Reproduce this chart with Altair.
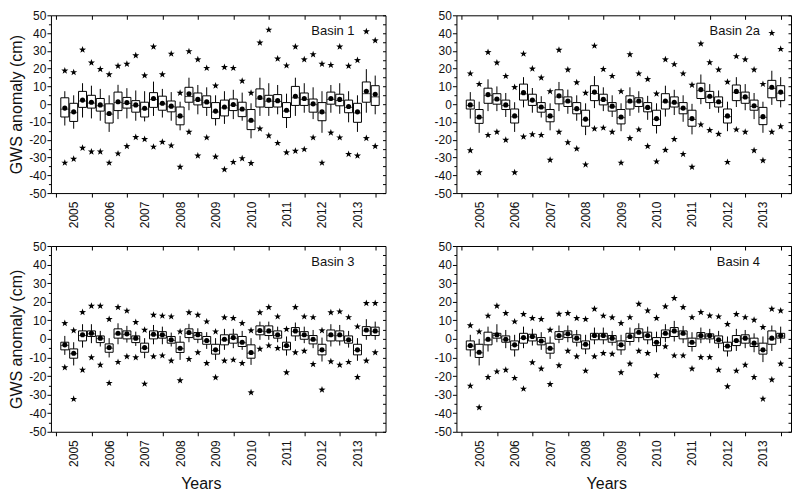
import json
import altair as alt
import pandas as pd

# ---------------- data ----------------
years = ["2005", "2006", "2007", "2008", "2009", "2010", "2011", "2012", "2013"]
basin_names = ["Basin 1", "Basin 2a", "Basin 3", "Basin 4"]
quarter_pos = list(range(1, 37))

# Basin 1
b1_q3 = [3.6, 0.5, 7.2, 5.0, 3.2, 0.2, 6.8, 3.8, 2.0, 1.1, 6.5, 4.5, 1.8, -1.6, 9.5, 6.3, 4.7, 0.9, 2.3, 2.9, 1.1, -3.0, 8.6, 5.0, 5.4, 0.9, 10.0, 6.3, 2.9, 0.9, 6.8, 5.6, 2.3, 0.5, 12.5, 10.4]
b1_q1 = [-7.2, -9.7, -1.8, -2.2, -3.9, -10.6, -3.6, -2.2, -4.5, -7.2, -1.8, -3.4, -4.3, -11.6, 1.1, -0.4, -1.8, -8.1, -6.6, -3.6, -7.0, -14.3, -1.6, -1.8, -1.6, -7.5, -0.7, -0.7, -4.5, -9.3, 0.0, -0.9, -4.8, -10.2, 1.1, -0.7]
b1_mean = [-2.2, -4.3, 2.3, 1.1, -0.4, -5.2, 1.4, 0.9, -0.4, -2.3, 3.2, 0.5, -1.1, -6.6, 5.9, 2.7, 1.3, -3.9, -1.6, -0.2, -2.7, -9.0, 3.8, 2.3, 2.0, -3.4, 4.5, 3.2, 0.2, -4.3, 3.2, 2.7, -1.3, -4.3, 7.3, 5.6]
b1_med = [-2.8, -4.8, 1.8, 0.6, -0.9, -5.6, 0.9, 0.4, -0.8, -2.8, 2.6, 0.1, -1.5, -7.0, 4.3, 2.2, 0.8, -4.4, -2.1, -0.6, -3.1, -9.5, 3.0, 1.7, 1.5, -3.9, 3.6, 2.6, -0.3, -4.9, 2.7, 2.1, -1.8, -4.9, 5.9, 4.1]
b1_whi = [7.3, 5.0, 11.8, 10.4, 8.6, 5.0, 10.9, 9.0, 7.7, 7.3, 12.7, 8.6, 6.8, 1.4, 14.9, 10.8, 9.5, 5.0, 7.3, 8.1, 6.5, 0.5, 14.9, 11.8, 10.8, 5.9, 14.9, 11.8, 9.5, 7.3, 10.8, 11.8, 7.3, 5.0, 19.7, 16.1]
b1_wlo = [-12.0, -13.8, -7.5, -8.0, -9.3, -15.6, -8.4, -8.0, -9.3, -9.7, -6.6, -7.5, -9.3, -14.7, -3.4, -5.7, -6.6, -12.0, -11.1, -8.4, -9.3, -19.2, -6.6, -6.6, -5.7, -13.4, -6.6, -4.8, -8.4, -16.1, -4.8, -5.4, -10.2, -15.6, -4.8, -5.7]
b1_max = [18.8, 17.9, 30.6, 23.3, 19.7, 16.7, 21.5, 22.6, 27.4, 16.1, 32.3, 16.7, 28.3, 6.3, 29.7, 25.1, 20.3, 10.4, 20.8, 20.3, 13.1, 6.3, 34.6, 41.8, 25.6, 21.7, 32.3, 25.1, 28.0, 22.6, 22.0, 32.3, 21.5, 24.7, 40.9, 35.8]
b1_min = [-33.0, -30.8, -24.6, -26.7, -26.7, -33.0, -27.8, -23.7, -18.6, -19.7, -24.0, -21.3, -23.3, -35.3, -15.6, -29.0, -18.8, -29.6, -36.7, -32.6, -30.5, -33.2, -13.8, -17.7, -21.9, -27.2, -26.3, -25.4, -18.8, -33.0, -16.1, -18.8, -28.1, -29.0, -19.2, -23.7]

# Basin 2a
b2_q3 = [2.3, -3.0, 9.0, 5.9, 2.3, -2.7, 11.3, 5.6, 0.9, -3.0, 8.1, 4.1, 0.9, -3.4, 10.4, 5.6, 0.9, -3.0, 4.7, 3.6, 0.9, -3.4, 5.9, 4.1, 0.9, -3.4, 11.8, 7.2, 4.1, -2.7, 10.8, 6.8, 2.3, -1.8, 13.4, 10.4]
b2_q1 = [-2.7, -10.8, 0.5, 0.0, -3.0, -10.6, 2.3, -0.7, -4.5, -9.9, 0.2, -1.3, -5.4, -12.4, 2.0, -0.4, -3.9, -11.1, -2.7, -1.3, -4.3, -12.0, -2.7, -1.6, -5.4, -12.4, 3.2, 0.9, -1.6, -10.6, 2.0, 0.5, -3.4, -11.5, 3.6, 2.0]
b2_mean = [-0.4, -7.2, 5.4, 2.9, -0.4, -6.6, 6.5, 2.3, -1.6, -6.6, 4.7, 1.8, -2.5, -8.4, 6.8, 2.7, -1.1, -7.2, 1.8, 1.8, -1.8, -8.1, 1.8, 1.1, -2.2, -8.1, 8.2, 4.5, 1.4, -6.6, 7.2, 4.1, -0.9, -7.0, 9.5, 6.8]
b2_med = [-0.8, -7.6, 4.8, 2.4, -0.8, -7.1, 5.8, 1.8, -2.0, -7.0, 4.0, 1.3, -2.9, -8.8, 6.0, 2.2, -1.5, -7.6, 1.2, 1.3, -2.2, -8.5, 1.2, 0.6, -2.6, -8.6, 7.6, 4.0, 0.9, -7.0, 6.5, 3.6, -1.3, -7.4, 8.8, 6.2]
b2_whi = [6.8, 1.4, 14.0, 10.0, 6.3, 1.1, 15.2, 9.1, 4.5, 0.5, 12.5, 8.2, 5.0, 0.5, 15.8, 9.5, 5.0, 0.5, 9.5, 7.3, 4.7, 0.5, 10.4, 8.1, 5.0, 0.2, 16.7, 11.3, 7.7, 1.4, 15.2, 11.3, 6.3, 1.4, 18.8, 15.2]
b2_wlo = [-8.1, -16.1, -3.9, -3.9, -7.2, -15.6, -1.8, -4.8, -7.5, -14.7, -3.9, -5.4, -9.3, -17.4, -2.2, -3.9, -7.2, -15.2, -6.6, -4.8, -8.8, -16.5, -7.0, -6.1, -9.9, -17.0, 0.0, -2.7, -4.8, -15.2, -1.6, -3.4, -8.4, -16.1, -0.4, -1.8]
b2_max = [17.2, 11.3, 29.2, 23.3, 15.8, 9.5, 28.3, 19.9, 14.9, 7.2, 30.5, 19.4, 12.2, 6.3, 32.8, 19.7, 15.8, 7.2, 28.0, 17.2, 14.0, 5.9, 25.1, 22.4, 17.2, 10.8, 34.0, 23.5, 19.4, 12.5, 26.9, 25.1, 19.4, 11.3, 40.0, 31.0]
b2_min = [-26.0, -38.4, -17.4, -15.6, -20.1, -38.4, -18.3, -17.0, -17.4, -31.4, -15.6, -21.5, -25.1, -34.0, -13.8, -13.3, -15.6, -33.0, -19.2, -14.3, -23.7, -32.3, -25.8, -19.7, -28.1, -35.3, -11.5, -14.7, -16.8, -32.6, -14.3, -15.6, -26.0, -31.7, -15.6, -12.5]

# Basin 3
b3_q3 = [-1.8, -5.4, 4.3, 4.3, 1.6, -2.7, 5.4, 4.3, 1.6, -2.3, 4.3, 3.9, 1.3, -1.8, 5.4, 3.4, 1.3, -2.9, 2.2, 2.5, 1.3, -3.2, 7.0, 7.0, 4.3, -1.8, 6.1, 3.9, 1.8, -2.9, 4.8, 4.3, 1.6, -2.9, 6.6, 6.3]
b3_q1 = [-5.9, -10.4, -1.1, 1.3, -2.0, -7.2, 0.4, 0.0, -2.0, -7.2, 0.0, 0.4, -2.3, -7.3, 0.7, -0.2, -2.9, -8.2, -3.2, -2.3, -4.1, -10.4, 2.2, 1.8, 0.4, -5.9, 1.6, -0.2, -2.7, -8.6, -1.1, -1.1, -2.3, -8.6, 1.8, 1.8]
b3_mean = [-3.2, -7.7, 2.2, 3.0, 0.4, -4.7, 3.0, 2.7, 0.4, -4.7, 2.5, 2.2, -0.5, -5.0, 3.4, 2.2, -0.9, -5.9, -0.2, 0.7, -1.8, -7.3, 4.5, 4.3, 2.2, -3.6, 4.3, 2.2, -0.2, -5.9, 2.2, 2.2, -0.5, -5.9, 4.8, 4.3]
b3_med = [-3.6, -8.0, 1.8, 2.7, 0.1, -5.0, 2.6, 2.3, 0.0, -5.0, 2.1, 1.9, -0.8, -5.3, 3.0, 1.8, -1.2, -6.2, -0.6, 0.3, -2.1, -7.7, 4.1, 3.9, 1.8, -3.9, 3.9, 1.8, -0.6, -6.3, 1.7, 1.7, -0.8, -6.3, 4.3, 3.9]
b3_whi = [1.6, -1.8, 7.9, 7.9, 4.3, 0.4, 8.4, 7.0, 3.9, 0.4, 7.5, 6.6, 3.4, 1.6, 8.1, 5.7, 3.6, 0.4, 5.4, 5.4, 4.3, 0.4, 9.3, 9.3, 6.6, 1.3, 8.8, 6.6, 4.8, 0.7, 7.9, 7.5, 4.3, 0.4, 10.6, 9.3]
b3_wlo = [-8.6, -14.3, -4.7, -2.3, -4.1, -10.0, -2.9, -2.0, -3.8, -10.4, -2.9, -2.9, -4.1, -11.3, -1.8, -2.3, -5.4, -11.3, -5.9, -5.0, -5.9, -14.0, -0.5, -0.5, -1.8, -9.0, -1.1, -2.3, -5.0, -12.2, -4.1, -3.6, -4.7, -11.8, -0.5, -0.5]
b3_max = [8.4, 4.5, 14.3, 17.7, 17.7, 10.6, 17.0, 15.1, 9.0, 4.8, 12.9, 12.4, 12.0, 3.9, 14.2, 12.9, 9.3, 3.9, 11.5, 11.1, 8.4, 4.5, 14.2, 17.0, 12.0, 5.2, 17.0, 12.0, 11.6, 4.5, 14.2, 14.7, 11.6, 6.6, 19.2, 19.2]
b3_min = [-15.4, -32.4, -16.7, -10.0, -14.0, -23.8, -12.5, -9.5, -10.0, -24.2, -9.5, -9.0, -11.8, -22.4, -10.9, -7.3, -13.1, -20.8, -11.8, -11.3, -13.1, -28.9, -5.4, -3.6, -5.0, -18.1, -7.3, -6.5, -13.6, -27.4, -12.2, -14.0, -12.5, -20.6, -11.8, -7.3]

# Basin 4
b4_q3 = [-1.1, -2.9, 3.6, 3.0, 1.6, -1.1, 3.0, 2.5, 0.7, -2.3, 3.9, 4.3, 2.2, -1.1, 3.0, 3.0, 1.8, -1.1, 3.0, 5.4, 3.6, 0.7, 4.8, 6.1, 4.3, 0.4, 3.4, 2.7, 1.6, -1.8, 1.8, 2.2, 0.4, -2.3, 4.3, 3.0]
b4_q1 = [-5.9, -10.0, -3.2, 0.4, -1.8, -5.9, -2.3, -1.1, -3.2, -7.7, -0.2, 0.7, -1.8, -5.4, -0.5, -0.5, -1.8, -5.9, -1.4, 0.7, -0.5, -3.6, 0.7, 1.3, 0.0, -4.1, 0.0, 0.0, -2.3, -6.5, -3.6, -2.3, -4.1, -8.2, -2.9, 0.4]
b4_mean = [-3.6, -7.2, -0.2, 2.2, -0.2, -3.2, 0.7, 1.3, -1.1, -5.0, 1.8, 2.7, 0.4, -2.9, 1.8, 1.8, 0.4, -3.2, 1.3, 3.6, 1.8, -1.8, 3.0, 4.3, 3.0, -1.8, 1.8, 1.8, -0.5, -3.8, -0.9, 0.4, -2.3, -5.9, 0.4, 1.8]
b4_med = [-3.9, -7.5, -0.6, 1.9, -0.5, -3.5, 0.3, 1.0, -1.4, -5.3, 1.5, 2.4, 0.1, -3.2, 1.5, 1.5, 0.1, -3.5, 0.9, 3.2, 1.5, -2.1, 2.7, 3.9, 2.6, -2.1, 1.5, 1.5, -0.8, -4.1, -1.3, 0.1, -2.6, -6.2, 0.0, 1.5]
b4_whi = [2.2, 0.0, 6.6, 7.9, 4.8, 2.2, 6.6, 5.4, 3.6, 1.3, 7.2, 7.2, 4.8, 2.2, 6.1, 6.1, 4.3, 2.2, 6.1, 8.4, 6.6, 3.9, 7.9, 9.7, 7.0, 3.6, 6.1, 5.4, 4.3, 1.3, 5.4, 4.8, 3.0, 1.3, 7.2, 6.6]
b4_wlo = [-9.5, -14.3, -6.8, -1.8, -5.0, -9.5, -5.0, -3.6, -5.9, -10.8, -2.3, -1.8, -4.1, -8.2, -2.9, -2.9, -3.6, -8.6, -3.6, -1.8, -2.9, -7.2, -1.8, -1.4, -2.3, -6.8, -2.3, -2.3, -5.0, -9.5, -6.5, -5.0, -7.2, -12.5, -6.5, -2.3]
b4_max = [7.2, 3.9, 12.4, 17.7, 13.8, 9.3, 13.3, 11.1, 10.6, 4.8, 13.4, 13.8, 11.1, 10.6, 16.1, 12.4, 11.5, 8.4, 11.6, 18.8, 15.2, 11.1, 17.4, 21.9, 17.0, 11.6, 14.3, 12.5, 12.0, 7.9, 13.3, 11.6, 10.2, 6.3, 16.1, 15.2]
b4_min = [-25.3, -36.9, -20.6, -17.6, -16.7, -21.1, -26.9, -12.7, -16.1, -24.4, -14.3, -6.5, -9.5, -17.2, -9.5, -7.7, -8.1, -18.1, -13.4, -6.5, -7.7, -19.7, -4.1, -9.0, -9.0, -16.1, -9.9, -9.9, -16.7, -25.6, -17.2, -14.0, -20.6, -32.3, -22.0, -13.4]

# ---------------- styling ----------------
FONT = "Liberation Sans"
INK = "#111111"
STAR = ("M0,-1L0.235,-0.324L0.951,-0.309L0.380,0.124L0.588,0.809L0,0.4"
        "L-0.588,0.809L-0.380,0.124L-0.951,-0.309L-0.235,-0.324Z")
PW = 335
BOXW = 8

year_label_expr = ("datum.value % 4 == 2 ? " + json.dumps(years)
                   + "[(datum.value - 2) / 4] : ''")


def panel(name, q1, q3, med, mean, wlo, whi, smin, smax, xtitle, ytitle, ph):
    df = pd.DataFrame({"pos": quarter_pos, "q1": q1, "q3": q3, "med": med,
                       "mean": mean, "wlo": wlo, "whi": whi,
                       "smin": smin, "smax": smax})
    xs = alt.Scale(domain=[0, 36.6], nice=False, zero=False)
    ys = alt.Scale(domain=[-50, 50], nice=False, zero=False)

    xkw = dict(values=list(range(0, 37, 2)), labelExpr=year_label_expr,
               labelAngle=270, labelAlign="right", labelBaseline="middle",
               labelPadding=4, tickSize=4, labelOverlap=False, labelFlush=False,
               tickOpacity={"condition": {"test": "datum.value % 4 == 0", "value": 1}, "value": 0},
               domain=False)
    if xtitle:
        xkw.update(titlePadding=9, titleX=150)
    ykw = dict(values=list(range(-50, 51, 5)),
               labelExpr="datum.value % 10 == 0 ? toString(datum.value) : ''",
               tickSize={"condition": {"test": "datum.value % 10 == 0", "value": 4}, "value": 2.5},
               labelPadding=1, labelOverlap=False, labelFlush=False, domain=False)
    if ytitle:
        ykw.update(titlePadding=4)

    xt = "Years" if xtitle else None
    yt = "GWS anomaly (cm)" if ytitle else None

    base = alt.Chart(df)
    whisk = base.mark_rule(color="black", strokeWidth=1).encode(
        x=alt.X("pos:Q", scale=xs, axis=alt.Axis(**xkw), title=xt),
        y=alt.Y("wlo:Q", scale=ys, axis=alt.Axis(**ykw), title=yt),
        y2="whi:Q")
    box = base.mark_bar(size=BOXW, fill="white", stroke="black", strokeWidth=1).encode(
        x=alt.X("pos:Q", axis=None), y=alt.Y("q1:Q", axis=None), y2="q3:Q")
    median = base.mark_tick(orient="horizontal", size=BOXW, thickness=1, color="black").encode(
        x=alt.X("pos:Q", axis=None), y=alt.Y("med:Q", axis=None))
    meanpt = base.mark_point(shape="circle", filled=True, size=26, color="black", opacity=1).encode(
        x=alt.X("pos:Q", axis=alt.Axis(orient="top", values=list(range(0, 37, 4)), labels=False,
                                       tickSize=4, offset=-4, domain=False, grid=False), title=None),
        y=alt.Y("mean:Q", axis=alt.Axis(orient="right", values=list(range(-50, 51, 5)), labels=False,
                                        tickSize=3, offset=-3, domain=False, grid=False), title=None))
    smax_l = base.mark_point(shape=STAR, filled=True, size=55, color="black", opacity=1).encode(
        x=alt.X("pos:Q", axis=None), y=alt.Y("smax:Q", axis=None))
    smin_l = base.mark_point(shape=STAR, filled=True, size=55, color="black", opacity=1).encode(
        x=alt.X("pos:Q", axis=None), y=alt.Y("smin:Q", axis=None))
    lab = alt.Chart(pd.DataFrame({"label": [name]})).mark_text(
        align="right", baseline="middle", font=FONT, fontSize=13, color=INK).encode(
        x=alt.value(304), y=alt.value(16), text="label:N")

    return alt.layer(whisk, box, median, meanpt, smax_l, smin_l, lab).resolve_axis(
        x="independent", y="independent").properties(width=PW, height=ph)


p1 = panel(basin_names[0], b1_q1, b1_q3, b1_med, b1_mean, b1_wlo, b1_whi, b1_min, b1_max, False, True, 178)
p2 = panel(basin_names[1], b2_q1, b2_q3, b2_med, b2_mean, b2_wlo, b2_whi, b2_min, b2_max, False, False, 178)
p3 = panel(basin_names[2], b3_q1, b3_q3, b3_med, b3_mean, b3_wlo, b3_whi, b3_min, b3_max, True, True, 186)
p4 = panel(basin_names[3], b4_q1, b4_q3, b4_med, b4_mean, b4_wlo, b4_whi, b4_min, b4_max, True, False, 186)

chart = alt.vconcat(
    alt.hconcat(p1, p2, spacing=47),
    alt.hconcat(p3, p4, spacing=47),
    spacing=10,
).properties(padding=0).configure_axis(
    labelFont=FONT, titleFont=FONT, labelFontSize=12, titleFontSize=16,
    titleFontWeight="normal", labelColor=INK, titleColor=INK,
    tickColor="black", tickWidth=1, grid=False,
).configure_view(stroke="black", strokeWidth=1)

chart.save("out.html", embed_options={"renderer": "svg", "actions": False})
